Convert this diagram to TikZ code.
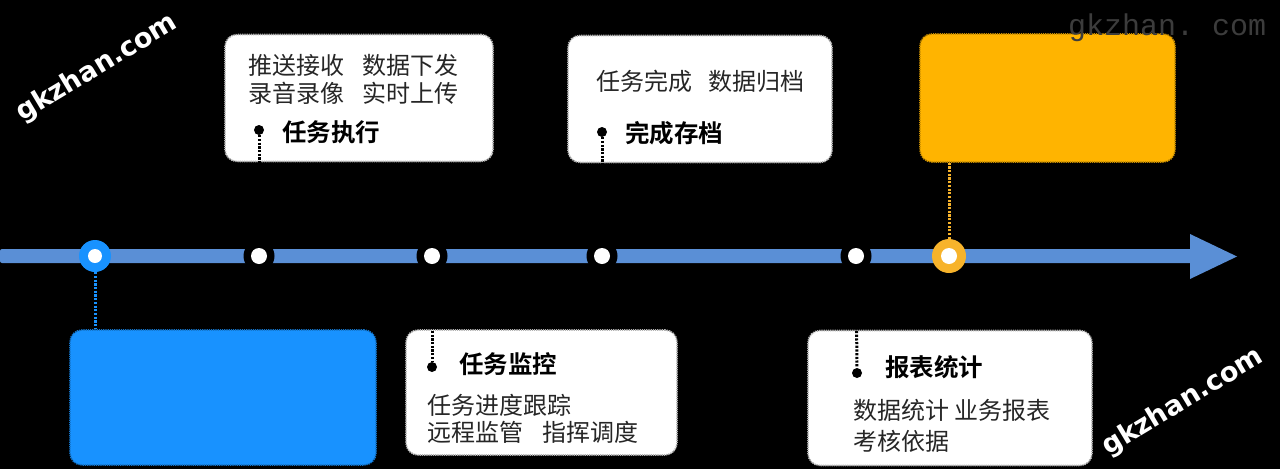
\documentclass[tikz,border=0pt]{standalone}
\usepackage{fontspec}
\setmainfont{Noto Sans CJK SC}[BoldFont={Noto Sans CJK SC Bold}]
\newfontfamily\wmfont{DejaVu Sans}
\newfontfamily\wmmono{Liberation Mono}
\definecolor{axisblue}{HTML}{5A8FD6}
\definecolor{boxblue}{HTML}{1892FF}
\definecolor{boxorange}{HTML}{FFB400}
\definecolor{nodeorange}{HTML}{F7B32B}
\definecolor{wmgray}{HTML}{3C3C3C}
\tikzset{
  wbox/.style={draw=gray!60, line width=1.6pt, dash pattern=on 1.2pt off 1pt, fill=white, rounded corners=12pt, inner sep=0pt},
  bluebox/.style={draw=boxblue!80!black, line width=1.6pt, dash pattern=on 1.2pt off 1pt, fill=boxblue, rounded corners=12pt, inner sep=0pt},
  orangebox/.style={draw=boxorange!80!black, line width=1.6pt, dash pattern=on 1.2pt off 1pt, fill=boxorange, rounded corners=12pt, inner sep=0pt},
  body/.style={anchor=west, inner sep=0pt, font=\fontsize{24}{28}\selectfont, text=black!85},
  title/.style={anchor=west, inner sep=0pt, font=\fontsize{24.5}{28}\selectfont\bfseries, text=black},
  tdot/.style={circle, fill=black, minimum size=10pt, inner sep=0pt},
  ring/.style={circle, fill=black, minimum size=31pt, inner sep=0pt},
  core/.style={circle, fill=white, minimum size=16pt, inner sep=0pt},
  dotline/.style={line width=3pt, dash pattern=on 2.2pt off 1.5pt},
  wm/.style={text=white, font=\wmfont\bfseries\fontsize{27}{30}\selectfont, rotate=31, inner sep=0pt}
}
\begin{document}
\begin{tikzpicture}[x=1pt,y=-1pt]
\fill[black] (0,0) rectangle (1280,469);
\useasboundingbox (0,0) rectangle (1280,469);

% axis
\fill[axisblue, rounded corners=2pt] (0,249) rectangle (1192,263);
\fill[axisblue] (1190,234) -- (1237,256.5) -- (1190,279) -- cycle;

% timeline nodes
\node[circle, fill=boxblue, minimum size=32pt, inner sep=0pt] (n1) at (95,256) {};
\node[core, minimum size=14pt] (n1c) at (n1) {};
\node[ring] (n2) at (259,256) {};
\node[core] (n2c) at (n2) {};
\node[ring] (n3) at (432,256) {};
\node[core] (n3c) at (n3) {};
\node[ring] (n4) at (602,256) {};
\node[core] (n4c) at (n4) {};
\node[ring] (n5) at (856,256) {};
\node[core] (n5c) at (n5) {};
\node[circle, fill=nodeorange, minimum size=34pt, inner sep=0pt] (n6) at (949,256) {};
\node[core] (n6c) at (n6) {};

% boxes
\node[wbox, minimum width=268pt, minimum height=127pt] (b1) at (359,98) {};
\node[wbox, minimum width=264pt, minimum height=127pt] (b2) at (700,99) {};
\node[orangebox, minimum width=255pt, minimum height=128pt] (b3) at (1047.5,98) {};
\node[bluebox, minimum width=306pt, minimum height=135pt] (b4) at (223,397.5) {};
\node[wbox, minimum width=271pt, minimum height=125pt] (b5) at (541.5,392.5) {};
\node[wbox, minimum width=284pt, minimum height=135pt] (b6) at (950,398) {};

% connector to coloured boxes
\draw[dotline, boxblue] (n1.south) -- (b4.north -| n1);
\draw[dotline, nodeorange] (n6.north) -- (b3.south -| n6);

% box 1
\node[body] (t11) at (248,65) {推送接收\hspace{0.75em}数据下发};
\node[body] (t12) at (248,93) {录音录像\hspace{0.75em}实时上传};
\node[tdot] (d1) at (259,130) {};
\node[title] (h1) at (282,132) {任务执行};
\draw[dotline] (d1) -- (n2);

% box 2
\node[body] (t21) at (596,81) {任务完成\hspace{0.7em}数据归档};
\node[tdot] (d2) at (602,132) {};
\node[title] (h2) at (625,133) {完成存档};
\draw[dotline] (d2) -- (n4);

% box 5
\node[tdot] (d5) at (432,367) {};
\node[title] (h5) at (459,364) {任务监控};
\node[body] (t51) at (427,405) {任务进度跟踪};
\node[body] (t52) at (427,432) {远程监管\hspace{0.8em}指挥调度};
\draw[dotline] (n3) -- (d5);

% box 6
\node[tdot] (d6) at (857,373) {};
\node[title] (h6) at (885,367) {报表统计};
\node[body] (t61) at (853,410) {数据统计 业务报表};
\node[body] (t62) at (853,441) {考核依据};
\draw[dotline] (n5) -- (d6);

% watermarks
\node[wm] (w1) at (97,68) {gkzhan.com};
\node[wm] (w2) at (1183,402) {gkzhan.com};
\node[anchor=base west, inner sep=0pt, text=wmgray, font=\wmmono\fontsize{30}{34}\selectfont] (w3) at (1068,35) {gkzhan.\hspace{-6pt} com};
\end{tikzpicture}
\end{document}
